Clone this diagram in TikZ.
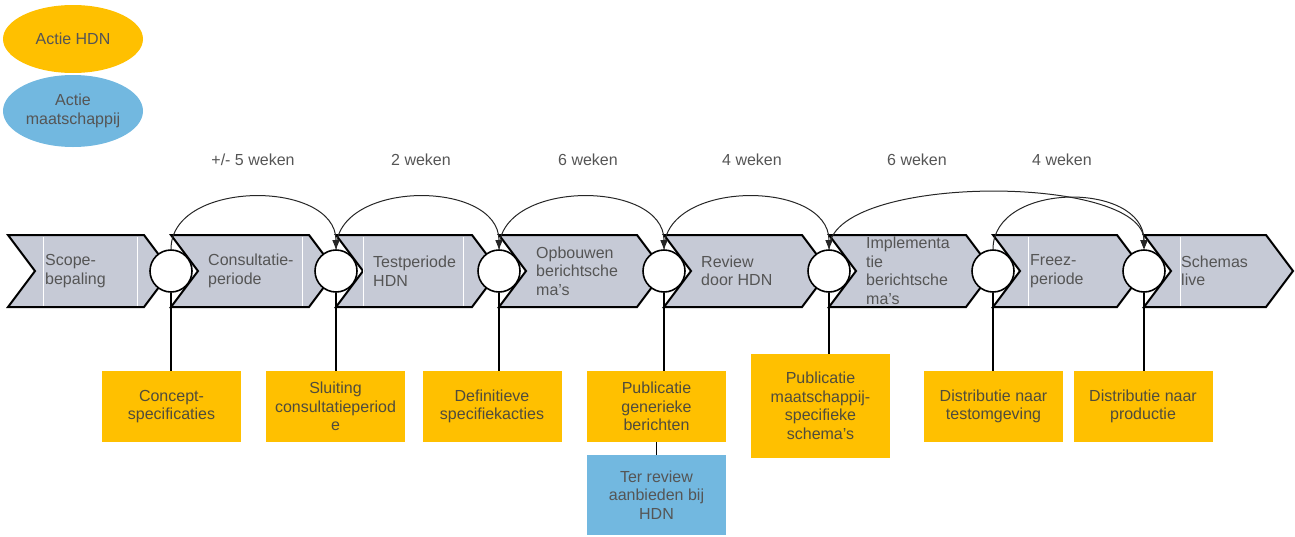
\documentclass[tikz,border=0pt]{standalone}
\usepackage{fontspec}
\setmainfont{Liberation Sans}
\usetikzlibrary{arrows.meta,shapes.geometric}
\definecolor{chevfill}{RGB}{198,202,214}
\definecolor{hdnorange}{RGB}{255,192,0}
\definecolor{mijblue}{RGB}{114,184,224}
\definecolor{txtgray}{RGB}{85,85,85}
\definecolor{boxtxt}{RGB}{80,76,60}
\newcommand\mychev[4]{%
  \filldraw[fill=chevfill,draw=black,line width=2pt,line join=miter]
    (#1,235) -- (#2-27,235) -- (#2,271) -- (#2-27,307) -- (#1,307) -- (#1+27,271) -- cycle;
  \node[chevtext] (#3) at (#1+37,271) {#4};
}
\newcommand\wline[1]{\draw[white,line width=0.8pt] (#1,236.5) -- (#1,305.5);}
\begin{document}
\begin{tikzpicture}[x=1pt,y=-1pt,
  every node/.style={font=\fontsize{16}{18.5}\selectfont},
  chevtext/.style={anchor=west,align=left,text=txtgray,inner sep=0pt},
  hub/.style={circle,draw=black,fill=white,line width=1.6pt,minimum size=42pt,inner sep=0pt},
  actbox/.style={rectangle,fill=hdnorange,text=boxtxt,align=center,minimum width=139pt,inner sep=2pt},
  mijbox/.style={rectangle,fill=mijblue,text=txtgray,align=center,minimum width=139pt,inner sep=2pt},
  legend/.style={ellipse,minimum width=140pt,text=txtgray,align=center,inner sep=0pt},
  weeks/.style={text=txtgray},
  stem/.style={draw=black,line width=1.6pt},
  hop/.style={draw=black!85,line width=1pt,-{Triangle[length=9pt,width=7pt]}}]
\useasboundingbox (0,0) rectangle (1295,536);
% legend
\node[legend,fill=hdnorange,minimum height=68pt] (leg1) at (73,39) {Actie HDN};
\node[legend,fill=mijblue,minimum height=72pt] (leg2) at (73,111) {Actie\\maatschappij};
% week labels
\node[weeks] (w1) at (253,160) {+/- 5 weken};
\node[weeks] (w2) at (421,160) {2 weken};
\node[weeks] (w3) at (588,160) {6 weken};
\node[weeks] (w4) at (752,160) {4 weken};
\node[weeks] (w5) at (917,160) {6 weken};
\node[weeks] (w6) at (1062,160) {4 weken};
% boxes
\node[actbox,minimum height=71pt] (b1) at (171.5,406.5) {Concept-\\specificaties};
\node[actbox,minimum height=71pt] (b2) at (335.5,406.5) {Sluiting\\consultatieperiod\\e};
\node[actbox,minimum height=71pt] (b3) at (492,406.5) {Definitieve\\specifiekacties};
\node[actbox,minimum height=71pt] (b4) at (656.5,406.5) {Publicatie\\generieke\\berichten};
\node[mijbox,minimum height=80pt] (r1) at (656.5,495) {Ter review\\aanbieden bij\\HDN};
\node[actbox,minimum height=104pt] (b5) at (820.5,406) {Publicatie\\maatschappij-\\specifieke\\schema's};
\node[actbox,minimum height=71pt] (b6) at (993.5,406.5) {Distributie naar\\testomgeving};
\node[actbox,minimum height=71pt] (b7) at (1143,406.5) {Distributie naar\\productie};
% chevrons
\mychev{8}{171}{t1}{Scope-\\bepaling}
\wline{43}\wline{137}
\mychev{171}{336}{t2}{Consultatie-\\periode}
\wline{302}
\mychev{336}{499}{t3}{Testperiode\\HDN}
\wline{363}\wline{463}
\mychev{499}{664}{t4}{Opbouwen\\berichtsche\\ma's}
\mychev{664}{829}{t5}{Review\\door HDN}
\mychev{829}{993}{t6}{Implementa\\tie\\berichtsche\\ma's}
\mychev{993}{1144}{t7}{Freez-\\periode}
\wline{1028}
\mychev{1144}{1293}{t8}{Schemas\\live}
\wline{1180}
% hubs
\node[hub] (c1) at (171,271) {};
\node[hub] (c2) at (336,271) {};
\node[hub] (c3) at (499,271) {};
\node[hub] (c4) at (664,271) {};
\node[hub] (c5) at (829,271) {};
\node[hub] (c6) at (993,271) {};
\node[hub] (c7) at (1144,271) {};
% stems
\draw[stem] (c1.south) -- (c1.south |- b1.north);
\draw[stem] (c2.south) -- (c2.south |- b2.north);
\draw[stem] (c3.south) -- (c3.south |- b3.north);
\draw[stem] (c4.south) -- (c4.south |- b4.north);
\draw[stem] (c5.south) -- (c5.south |- b5.north);
\draw[stem] (c6.south) -- (c6.south |- b6.north);
\draw[stem] (c7.south) -- (c7.south |- b7.north);
\draw[stem] (b4.south) -- (r1.north);
% hops
\draw[hop] (c1.north) .. controls +(0,-70) and +(0,-70) .. (c2.north);
\draw[hop] (c2.north) .. controls +(0,-70) and +(0,-70) .. (c3.north);
\draw[hop] (c3.north) .. controls +(0,-70) and +(0,-70) .. (c4.north);
\draw[hop] (c4.north) .. controls +(0,-70) and +(0,-70) .. (c5.north);
\draw[hop] (c5.north) .. controls +(0,-76) and +(0,-76) .. (c7.north);
\draw[hop] (c6.north) .. controls +(0,-68) and +(0,-68) .. (c7.north);
\end{tikzpicture}
\end{document}
